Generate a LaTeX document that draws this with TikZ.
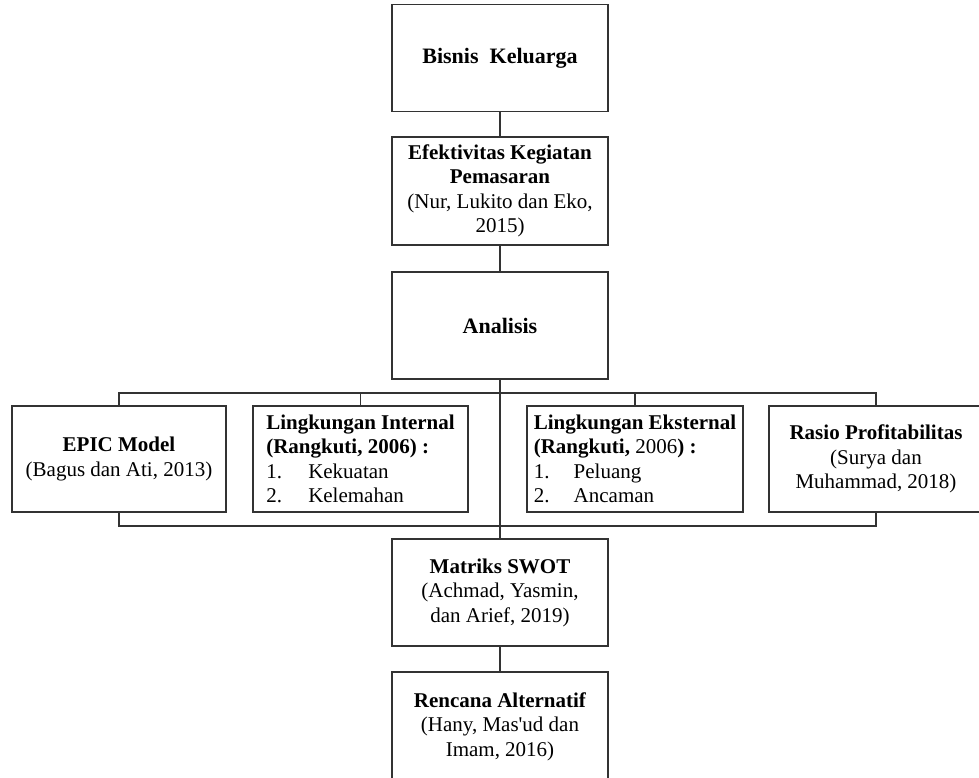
\documentclass[tikz,border=0pt]{standalone}
\usepackage{fontspec}
\setmainfont{Liberation Serif}
\begin{document}
\begin{tikzpicture}[x=1pt,y=-1pt,
  box/.style={draw=black!80,line width=1.1pt,rectangle,minimum width=216pt,minimum height=107pt,inner sep=0pt,align=center,font=\fontsize{21}{24.5}\selectfont},
  lbox/.style={box,align=left},
  conn/.style={draw=black!80,line width=1.1pt}]
\useasboundingbox (0,0) rectangle (979,778);
\node[box,font=\fontsize{22}{25}\selectfont\bfseries] (bisnis) at (500,58) {Bisnis\ \ Keluarga};
\node[box,minimum height=108pt] (efek) at (500,191) {\textbf{Efektivitas Kegiatan}\\\textbf{Pemasaran}\\(Nur, Lukito dan Eko,\\2015)};
\node[box,font=\fontsize{22}{25}\selectfont\bfseries] (analisis) at (500,325.5) {Analisis};
\node[box,minimum width=214pt,minimum height=106pt] (epic) at (119,459) {\textbf{EPIC Model}\\(Bagus dan Ati, 2013)};
\node[lbox,minimum width=215pt,minimum height=106pt] (internal) at (360.5,459) {\textbf{Lingkungan Internal}\\\textbf{(Rangkuti, 2006) :}\\\makebox[42pt][l]{1.}Kekuatan\\\makebox[42pt][l]{2.}Kelemahan};
\node[lbox,minimum width=216pt,minimum height=106pt] (ekstern) at (635,459) {\textbf{Lingkungan Eksternal}\\\textbf{(Rangkuti,} 2006\textbf{) :}\\\makebox[40pt][l]{1.}Peluang\\\makebox[40pt][l]{2.}Ancaman};
\node[box,minimum width=214pt,minimum height=106pt] (rasio) at (876,459) {\textbf{Rasio Profitabilitas}\\(Surya dan\\Muhammad, 2018)};
\node[box] (swot) at (500,592.5) {\textbf{Matriks SWOT}\\(Achmad, Yasmin,\\dan Arief, 2019)};
\node[box,minimum height=109pt] (rencana) at (500,726.5) {\textbf{Rencana Alternatif}\\(Hany, Mas\textquotesingle ud dan\\Imam, 2016)};
\coordinate (busT) at (501,393);
\coordinate (busB) at (501,526);
\draw[conn] (bisnis.south) -- (efek.north);
\draw[conn] (efek.south) -- (analisis.north);
\draw[conn] (analisis.south) -- (swot.north);
\draw[conn] (swot.south) -- (rencana.north);
\draw[conn] (epic.north) |- (busT) -| (rasio.north);
\draw[conn] (internal.north) -- (internal.north |- busT);
\draw[conn] (ekstern.north) -- (ekstern.north |- busT);
\draw[conn] (epic.south) |- (busB) -| (rasio.south);
\end{tikzpicture}
\end{document}
